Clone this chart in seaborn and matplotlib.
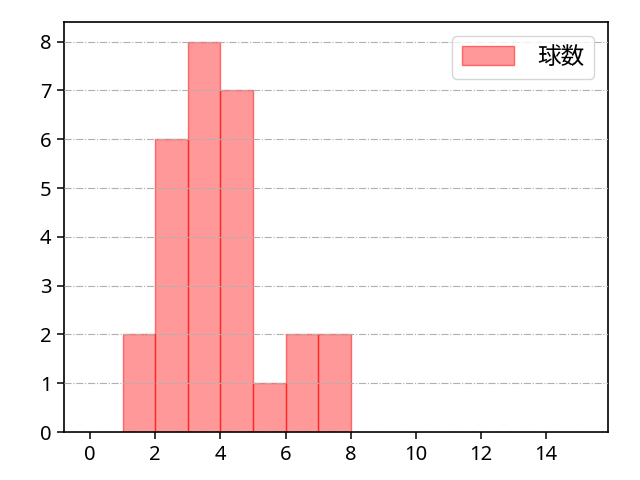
import matplotlib
matplotlib.use('Agg')
import matplotlib.pyplot as plt
import seaborn as sns

# histogram bins (left edges) and counts
bin_edges = [1, 2, 3, 4, 5, 6, 7, 8]
bin_left = [1, 2, 3, 4, 5, 6, 7]
counts = [2, 6, 8, 7, 1, 2, 2]
label = '球数'

sns.set_style('white')
plt.rcParams['font.family'] = ['Noto Sans', 'Noto Sans CJK JP']
plt.rcParams['text.color'] = 'black'
plt.rcParams['xtick.color'] = 'black'
plt.rcParams['ytick.color'] = 'black'

fig, ax = plt.subplots(figsize=(6.4, 4.8), dpi=100)
sns.histplot(x=[v + 0.5 for v in bin_left], weights=counts, bins=bin_edges,
             color='red', alpha=0.4, edgecolor=(1, 0, 0, 0.5), linewidth=1,
             label=label, ax=ax)

ax.set_xlim(-0.8, 15.9)
ax.set_ylim(0, 8.4)
ax.set_xticks(range(0, 16, 2))
ax.set_yticks(range(0, 9))
ax.tick_params(labelsize=14.5, direction='out', length=5, width=1.1,
               left=True, bottom=True, pad=4, colors='black')
ax.grid(axis='y', linestyle='-.', color='#b0b0b0', linewidth=0.8)
ax.set_axisbelow(False)
ax.set_xlabel('')
ax.set_ylabel('')
for s in ax.spines.values():
    s.set_color('black')
    s.set_linewidth(1.2)

ax.legend(loc='upper right', fontsize=17, handlelength=2.2, handleheight=0.8,
          handletextpad=1.0, borderaxespad=0.6)

fig.subplots_adjust(left=0.1, right=0.95, top=0.954, bottom=0.1)
fig.savefig('out.png')
